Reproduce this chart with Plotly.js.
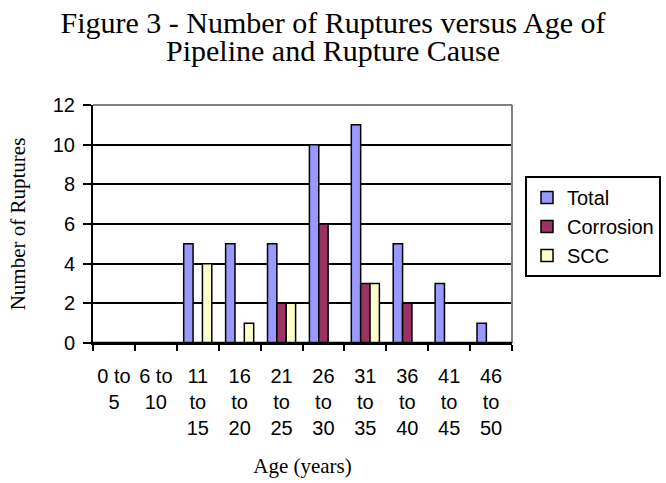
<!DOCTYPE html>
<html>
<head>
<meta charset="utf-8">
<script src="https://cdn.plot.ly/plotly-3.0.1.min.js"></script>
<style>html,body{margin:0;padding:0;background:#fff;}#chart{width:666px;height:483px;}</style>
</head>
<body>
<div id="chart"></div>
<script>
const ageGroups = ["0 to 5","6 to 10","11 to 15","16 to 20","21 to 25","26 to 30","31 to 35","36 to 40","41 to 45","46 to 50"];
const tickLabels = ["0 to<br>5","6 to<br>10","11<br>to<br>15","16<br>to<br>20","21<br>to<br>25","26<br>to<br>30","31<br>to<br>35","36<br>to<br>40","41<br>to<br>45","46<br>to<br>50"];
const totalRuptures = [0,0,5,5,5,10,11,5,3,1];
const corrosionRuptures = [0,0,0,0,2,6,3,2,0,0];
const sccRuptures = [0,0,4,1,2,0,3,0,0,0];
const seriesNames = ["Total","Corrosion","SCC"];
const titleLines = ["Figure 3 - Number of Ruptures versus Age of","Pipeline and Rupture Cause"];

const colors = ["#9999FF","#993366","#FFFFCC"];
const seriesValues = [totalRuptures, corrosionRuptures, sccRuptures];

const traces = seriesValues.map((vals, i) => ({
  type: "bar",
  name: seriesNames[i],
  x: tickLabels,
  y: vals,
  marker: {color: colors[i], line: {color: "#000", width: 1.5}},
  hoverinfo: "x+y+name"
}));

const serif = "Liberation Serif, Times New Roman, serif";
const sans = "Liberation Sans, Arial, sans-serif";

const layout = {
  width: 666, height: 483,
  margin: {l: 93, r: 154, t: 105, b: 140, pad: 0, autoexpand: false},
  paper_bgcolor: "#fff", plot_bgcolor: "#fff",
  barmode: "group", bargap: 0.33, bargroupgap: 0,
  showlegend: true,
  title: {text: titleLines[0], font: {family: serif, size: 30, color: "#000"},
          x: 0.5, xref: "container", y: 1 - 22.7/483, yref: "container", yanchor: "middle"},
  annotations: [{text: titleLines[1], xref: "paper", yref: "paper", x: (333-93)/419, y: (343-50.3)/238,
                 xanchor: "center", yanchor: "middle", showarrow: false,
                 font: {family: serif, size: 30, color: "#000"}}],
  xaxis: {
    type: "category", tickson: "boundaries", ticks: "outside", ticklen: 6, tickwidth: 2, tickcolor: "#000",
    showline: true, linecolor: "#000", linewidth: 2, showgrid: false, zeroline: false,
    tickangle: 0, automargin: false,
    tickfont: {family: sans, size: 20, color: "#000"}, ticklabelstandoff: 14,
    title: {text: "Age (years)", font: {family: serif, size: 21, color: "#000"}, standoff: 20},
    fixedrange: true
  },
  yaxis: {
    range: [0, 12], dtick: 2, ticks: "outside", ticklen: 8, tickwidth: 2, tickcolor: "#000",
    showline: true, linecolor: "#000", linewidth: 2, automargin: false,
    showgrid: true, gridcolor: "#000", gridwidth: 2, zeroline: false,
    tickfont: {family: sans, size: 20, color: "#000"}, ticklabelstandoff: 4,
    title: {text: "Number of Ruptures", font: {family: serif, size: 21, color: "#000"}, standoff: 21},
    fixedrange: true
  },
  legend: {
    x: (525-93)/419, y: (343-176)/238, xanchor: "left", yanchor: "top",
    bgcolor: "#fff", bordercolor: "#000", borderwidth: 2,
    font: {family: sans, size: 20, color: "#000"}, traceorder: "normal"
  },
  shapes: [
    {type: "line", xref: "paper", yref: "paper", x0: 0, x1: 1, y0: 1, y1: 1, line: {color: "#808080", width: 2}, layer: "above"},
    {type: "line", xref: "paper", yref: "paper", x0: 1, x1: 1, y0: 0, y1: 1, line: {color: "#808080", width: 2}, layer: "above"},
    {type: "line", xref: "paper", yref: "paper", x0: 0, x1: 1, y0: 0, y1: 0, line: {color: "#000", width: 2.5}, layer: "above"}
  ]
};

Plotly.newPlot("chart", traces, layout, {displayModeBar: false, staticPlot: true});
</script>
</body>
</html>
